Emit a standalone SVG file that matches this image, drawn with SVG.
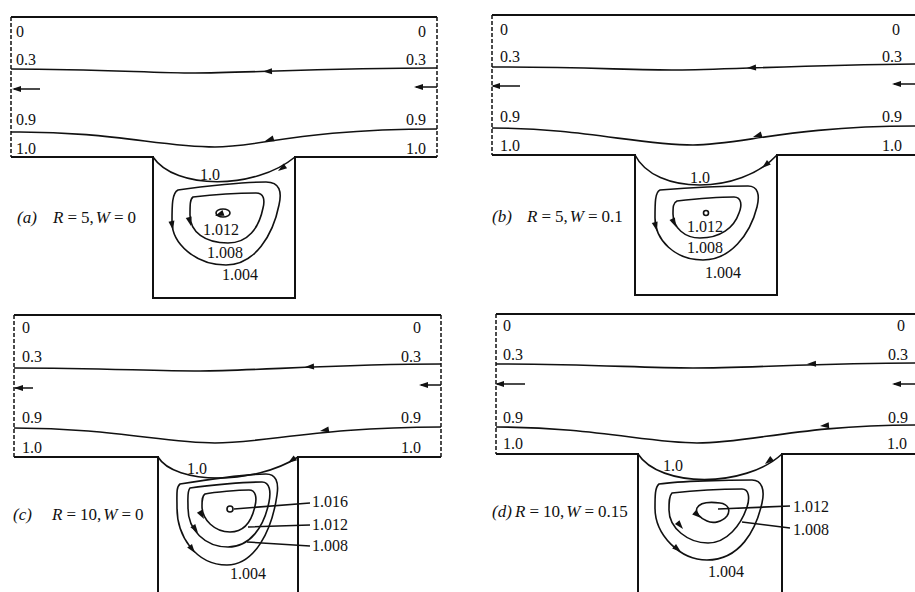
<svg xmlns="http://www.w3.org/2000/svg" xmlns:xlink="http://www.w3.org/1999/xlink" width="915" height="592" viewBox="0 0 915 592">
<style>
.b{fill:none;stroke:#111;stroke-width:2}
.s{fill:none;stroke:#111;stroke-width:1.6}
.d{fill:none;stroke:#111;stroke-width:1.5;stroke-dasharray:4 2}
.t{font-family:"Liberation Serif","Times New Roman",serif;font-size:16px;fill:#111}
.q{font-size:17px}
.e{text-anchor:end}
.i{font-style:italic}
</style>
<defs>
<path id="ah" d="M0,0 L9,-3 L9,3 Z" fill="#111"/>
</defs>
<rect width="915" height="592" fill="#fff"/>

<g id="panel-a">
<path class="b" d="M11,17 H437"/>
<path class="d" d="M11,17 V157 M437,17 V157"/>
<path class="b" d="M11,157 H153 V298 H295 V157 H437"/>
<path class="s" d="M11,69 C100,69 150,73 195,73 C240,73 330,68 437,68"/>
<path class="s" d="M11,132 C110,131 160,147 215,147 C260,147 300,129 437,129"/>
<path class="s" d="M40,89 H14 M437,87 H416"/>
<path class="s" d="M153,157 C175,190 255,190 295,157"/>
<path class="s" d="M178,190 C205,186 245,182 266,182 C280,182 282,192 279,205 C273,235 255,265 226,265 C195,265 172,243 172,222 C172,205 172,193 178,190 Z"/>
<path class="s" d="M193,197 C210,195 240,193 256,193 C264,193 265,200 263,208 C259,228 248,243 228,243 C205,243 190,232 190,215 C190,205 190,199 193,197 Z"/>
<ellipse class="s" cx="223" cy="213" rx="7" ry="4"/>
<use xlink:href="#ah" transform="translate(263,71.5) rotate(-2)"/>
<use xlink:href="#ah" transform="translate(265,141) rotate(-17)"/>
<use xlink:href="#ah" transform="translate(12,89)"/>
<use xlink:href="#ah" transform="translate(414,87)"/>
<use xlink:href="#ah" transform="translate(278,171) rotate(-35)"/>
<use xlink:href="#ah" transform="translate(173,230) rotate(-100)"/>
<use xlink:href="#ah" transform="translate(191,226) rotate(-105)"/>
<use xlink:href="#ah" transform="translate(215,216) rotate(-20)"/>
<text class="t" x="16" y="37">0</text>
<text class="t" x="16" y="65">0.3</text>
<text class="t" x="16" y="125">0.9</text>
<text class="t" x="16" y="154">1.0</text>
<text class="t e" x="426" y="37">0</text>
<text class="t e" x="426" y="65">0.3</text>
<text class="t e" x="426" y="125">0.9</text>
<text class="t e" x="426" y="154">1.0</text>
<text class="t" x="200" y="180">1.0</text>
<text class="t" x="203" y="235">1.012</text>
<text class="t" x="207" y="258">1.008</text>
<text class="t" x="222" y="280">1.004</text>
<text class="t q i" x="17" y="223">(a)</text>
<text class="t q" x="53" y="223"><tspan class="i">R</tspan><tspan dx="4">=</tspan><tspan dx="4">5,</tspan><tspan class="i" dx="2">W</tspan><tspan dx="4">=</tspan><tspan dx="4">0</tspan></text>
</g>

<g id="panel-b">
<path class="b" d="M492,15 H915"/>
<path class="d" d="M492,15 V155"/>
<path class="b" d="M492,155 H635 V295 H777 V155 H915"/>
<path class="s" d="M492,67 C580,67 630,70 677,70 C720,70 800,65 915,64"/>
<path class="s" d="M492,128 C580,128 640,145 693,145 C740,145 790,126 915,126"/>
<path class="s" d="M520,86 H493 M915,84 H894"/>
<path class="s" d="M635,155 C655,195 740,195 777,155"/>
<path class="s" d="M660,190 C685,188 725,186 748,186 C758,186 760,195 757,207 C750,235 730,260 703,260 C675,260 655,240 655,218 C655,203 655,192 660,190 Z"/>
<path class="s" d="M677,201 C695,199 720,197 734,197 C742,197 742,206 739,213 C734,228 720,238 700,238 C685,238 673,228 673,214 C673,207 673,203 677,201 Z"/>
<circle class="s" cx="706" cy="213" r="2.5"/>
<use xlink:href="#ah" transform="translate(747,68) rotate(-3)"/>
<use xlink:href="#ah" transform="translate(753,137) rotate(-17)"/>
<use xlink:href="#ah" transform="translate(491,86)"/>
<use xlink:href="#ah" transform="translate(892,84)"/>
<use xlink:href="#ah" transform="translate(762,168) rotate(-40)"/>
<use xlink:href="#ah" transform="translate(657,231) rotate(-105)"/>
<use xlink:href="#ah" transform="translate(676,227) rotate(-115)"/>
<text class="t" x="500" y="35">0</text>
<text class="t" x="500" y="62">0.3</text>
<text class="t" x="500" y="122">0.9</text>
<text class="t" x="500" y="151">1.0</text>
<text class="t e" x="900" y="35">0</text>
<text class="t e" x="902" y="62">0.3</text>
<text class="t e" x="902" y="122">0.9</text>
<text class="t e" x="902" y="151">1.0</text>
<text class="t" x="690" y="183">1.0</text>
<text class="t" x="687" y="232">1.012</text>
<text class="t" x="687" y="253">1.008</text>
<text class="t" x="705" y="278">1.004</text>
<text class="t q i" x="492" y="222">(b)</text>
<text class="t q" x="527" y="222"><tspan class="i">R</tspan><tspan dx="4">=</tspan><tspan dx="4">5,</tspan><tspan class="i" dx="2">W</tspan><tspan dx="4">=</tspan><tspan dx="4">0.1</tspan></text>
</g>

<g id="panel-c">
<path class="b" d="M14,315 H441"/>
<path class="d" d="M14,315 V457 M441,315 V457"/>
<path class="b" d="M14,457 H158 V592 M298,592 V457 H441"/>
<path class="s" d="M14,368 C100,368 150,371 200,371 C250,371 340,364 441,364"/>
<path class="s" d="M14,428 C110,428 165,443 215,443 C265,443 320,427 441,427"/>
<path class="s" d="M33,388 H15 M441,385 H421"/>
<path class="s" d="M158,457 C175,485 255,485 298,457"/>
<path class="s" d="M180,484 C205,480 245,474 266,474 C276,474 279,482 277,495 C272,530 255,565 227,565 C195,565 177,535 177,508 C177,495 176,487 180,484 Z"/>
<path class="s" d="M190,488 C210,485 245,482 262,482 C270,482 271,492 269,502 C264,527 250,547 228,547 C205,547 188,530 188,508 C188,498 187,491 190,488 Z"/>
<path class="s" d="M205,494 C215,492 238,490 249,490 C256,490 257,498 255,506 C252,520 245,532 230,532 C215,532 202,520 202,506 C202,500 202,496 205,494 Z"/>
<circle class="s" cx="230" cy="509" r="3"/>
<path class="s" d="M234,509 L310,503 M248,527 L310,525 M247,542 L310,546"/>
<use xlink:href="#ah" transform="translate(305,367) rotate(-3)"/>
<use xlink:href="#ah" transform="translate(320,431) rotate(-10)"/>
<use xlink:href="#ah" transform="translate(14,388)"/>
<use xlink:href="#ah" transform="translate(419,385)"/>
<use xlink:href="#ah" transform="translate(288,463) rotate(-35)"/>
<use xlink:href="#ah" transform="translate(195,553) rotate(-127)"/>
<use xlink:href="#ah" transform="translate(198,533) rotate(-125)"/>
<use xlink:href="#ah" transform="translate(204,519) rotate(-120)"/>
<text class="t" x="22" y="333">0</text>
<text class="t" x="22" y="362">0.3</text>
<text class="t" x="22" y="423">0.9</text>
<text class="t" x="22" y="453">1.0</text>
<text class="t e" x="421" y="333">0</text>
<text class="t e" x="421" y="362">0.3</text>
<text class="t e" x="421" y="423">0.9</text>
<text class="t e" x="421" y="453">1.0</text>
<text class="t" x="187" y="474">1.0</text>
<text class="t" x="312" y="507">1.016</text>
<text class="t" x="312" y="530">1.012</text>
<text class="t" x="312" y="551">1.008</text>
<text class="t" x="230" y="579">1.004</text>
<text class="t q i" x="13" y="520">(c)</text>
<text class="t q" x="52" y="520"><tspan class="i">R</tspan><tspan dx="4">=</tspan><tspan dx="4">10,</tspan><tspan class="i" dx="2">W</tspan><tspan dx="4">=</tspan><tspan dx="4">0</tspan></text>
</g>

<g id="panel-d">
<path class="b" d="M496,314 H915"/>
<path class="d" d="M496,314 V454"/>
<path class="b" d="M496,454 H638 V592 M782,592 V454 H915"/>
<path class="s" d="M496,364 C590,364 640,368 693,368 C750,368 820,363 915,363"/>
<path class="s" d="M496,427 C590,427 650,443 697,443 C750,443 800,425 915,425"/>
<path class="s" d="M525,384 H497 M915,384 H894"/>
<path class="s" d="M638,454 C660,488 745,488 782,454"/>
<path class="s" d="M659,484 C680,481 730,480 752,480 C762,480 765,490 762,503 C756,530 740,560 707,560 C680,560 655,535 655,508 C655,496 655,487 659,484 Z"/>
<path class="s" d="M672,493 C690,491 725,489 742,489 C749,489 750,498 747,507 C741,525 727,543 708,543 C688,543 669,528 669,510 C669,502 669,496 672,493 Z"/>
<path class="s" d="M697,508 C700,502 712,502 720,503 C728,504 731,510 727,516 C722,522 713,524 707,521 C700,518 695,513 697,508 Z"/>
<path class="s" d="M718,509 L790,506 M742,522 L790,528"/>
<use xlink:href="#ah" transform="translate(807,364) rotate(-2)"/>
<use xlink:href="#ah" transform="translate(820,426) rotate(-5)"/>
<use xlink:href="#ah" transform="translate(495,384)"/>
<use xlink:href="#ah" transform="translate(892,384)"/>
<use xlink:href="#ah" transform="translate(765,464) rotate(-38)"/>
<use xlink:href="#ah" transform="translate(681,552) rotate(-140)"/>
<use xlink:href="#ah" transform="translate(683,529) rotate(-130)"/>
<use xlink:href="#ah" transform="translate(701,518) rotate(-140)"/>
<text class="t" x="503" y="331">0</text>
<text class="t" x="503" y="360">0.3</text>
<text class="t" x="503" y="423">0.9</text>
<text class="t" x="503" y="449">1.0</text>
<text class="t e" x="905" y="331">0</text>
<text class="t e" x="908" y="360">0.3</text>
<text class="t e" x="908" y="423">0.9</text>
<text class="t e" x="907" y="449">1.0</text>
<text class="t" x="663" y="471">1.0</text>
<text class="t" x="793" y="512">1.012</text>
<text class="t" x="793" y="535">1.008</text>
<text class="t" x="708" y="577">1.004</text>
<text class="t q i" x="492" y="517">(d)</text>
<text class="t q" x="515" y="517"><tspan class="i">R</tspan><tspan dx="4">=</tspan><tspan dx="4">10,</tspan><tspan class="i" dx="2">W</tspan><tspan dx="4">=</tspan><tspan dx="4">0.15</tspan></text>
</g>
</svg>
